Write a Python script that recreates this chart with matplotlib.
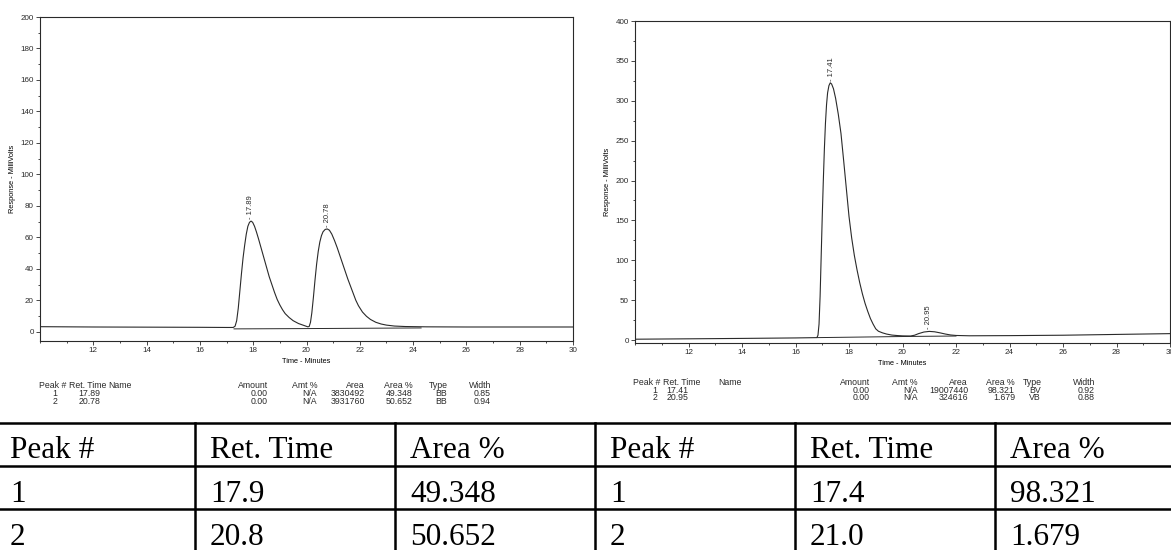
"""
plot.py - two HPLC chromatograms with their printouts and a summary table.
"""

import matplotlib
matplotlib.use("Agg")
import matplotlib.pyplot as plt
import matplotlib.ticker as mticker
from matplotlib.lines import Line2D

# ── Data ─────────────────────────────────────────────────────────────────────
# left run (racemic): time (min) / response (mV)
left_t = [10.0, 12.0, 14.0, 16.0, 17.0, 17.25, 17.32, 17.38, 17.44, 17.5, 17.56,
          17.62, 17.68, 17.74, 17.8, 17.86, 17.92, 17.98, 18.05, 18.12, 18.2,
          18.3, 18.4, 18.5, 18.6, 18.7, 18.8, 18.9, 19.0, 19.1, 19.2, 19.35,
          19.5, 19.7, 19.9, 20.05, 20.1, 20.15, 20.2, 20.26, 20.32, 20.38,
          20.44, 20.5, 20.56, 20.62, 20.7, 20.78, 20.86, 20.95, 21.05, 21.15,
          21.25, 21.35, 21.45, 21.55, 21.65, 21.75, 21.85, 21.95, 22.1, 22.25,
          22.4, 22.6, 22.8, 23.0, 23.3, 23.7, 24.5, 26.0, 28.0, 30.0]
left_mv = [3.2, 3.0, 2.9, 2.8, 2.7, 2.7, 3.5, 7.0, 15.0, 26.0, 37.0,
           47.0, 55.0, 62.0, 67.0, 69.5, 70.3, 69.5, 67.0, 63.5, 59.0,
           53.0, 47.0, 41.0, 35.0, 30.0, 25.0, 20.5, 17.0, 14.0, 11.5, 9.0,
           7.0, 5.2, 4.0, 3.1, 3.3, 6.0, 12.0, 22.0, 33.0, 43.0,
           51.0, 57.0, 61.0, 63.5, 65.0, 65.3, 64.5, 62.0, 58.0, 53.5,
           48.5, 43.5, 38.5, 33.5, 29.0, 24.5, 20.0, 16.5, 12.5, 9.8,
           7.8, 6.0, 4.9, 4.2, 3.6, 3.3, 3.1, 3.0, 3.0, 3.0]
left_base_t = [17.28, 20.08, 24.3]
left_base_mv = [1.8, 2.0, 2.4]
left_peak_t = [17.89, 20.78]
left_peak_mv = [70.3, 65.3]
left_peak_lab = ["17.89", "20.78"]

# right run (enriched)
right_t = [10.0, 12.0, 14.0, 16.0, 16.8, 16.84, 16.88, 16.92, 16.96, 17.0,
           17.04, 17.08, 17.12, 17.16, 17.2, 17.25, 17.3, 17.35, 17.42, 17.5,
           17.6, 17.7, 17.8, 17.9, 18.0, 18.1, 18.2, 18.3, 18.4, 18.5, 18.6,
           18.7, 18.8, 18.9, 19.0, 19.1, 19.25, 19.4, 19.6, 19.8, 20.0, 20.3,
           20.45, 20.6, 20.8, 21.0, 21.2, 21.4, 21.6, 21.8, 22.0, 22.5, 24.0,
           26.0, 28.0, 30.0]
right_mv = [1.0, 1.5, 2.0, 2.6, 3.0, 6.0, 20.0, 55.0, 105.0, 155.0,
            200.0, 240.0, 272.0, 295.0, 310.0, 319.0, 322.5, 321.0, 315.0, 303.0,
            283.0, 259.0, 225.0, 190.0, 155.0, 128.0, 106.0, 88.0, 72.0, 58.0, 46.0,
            36.0, 27.0, 20.0, 14.0, 11.0, 9.0, 7.5, 6.2, 5.6, 5.2, 5.0,
            6.0, 8.0, 10.0, 10.8, 10.3, 9.0, 7.5, 6.3, 5.7, 5.3, 5.5,
            6.0, 7.0, 8.0]
right_base_t = [16.82, 20.3, 22.0]
right_base_mv = [3.0, 4.5, 5.0]
right_peak_t = [17.33, 20.99]
right_peak_mv = [322.5, 10.8]
right_peak_lab = ["17.41", "20.95"]

# instrument printouts
pr_head = ["Peak #", "Ret. Time", "Name", "Amount", "Amt %", "Area", "Area %", "Type", "Width"]
left_rows = [["1", "17.89", "", "0.00", "N/A", "3830492", "49.348", "BB", "0.85"],
             ["2", "20.78", "", "0.00", "N/A", "3931760", "50.652", "BB", "0.94"]]
right_rows = [["1", "17.41", "", "0.00", "N/A", "19007440", "98.321", "BV", "0.92"],
              ["2", "20.95", "", "0.00", "N/A", "324616", "1.679", "VB", "0.88"]]

# summary table
sum_head = ["Peak #", "Ret. Time", "Area %", "Peak #", "Ret. Time", "Area %"]
sum_rows = [["1", "17.9", "49.348", "1", "17.4", "98.321"],
            ["2", "20.8", "50.652", "2", "21.0", "1.679"]]

# ── Layout helpers (pixel -> figure fraction) ────────────────────────────────
W, H = 1171, 550
INK = "#2a2a2a"
SANS = ["Liberation Sans", "DejaVu Sans"]
SERIF = ["Liberation Serif", "DejaVu Serif"]


def fx(px):
    return px / W


def fy(py):
    return 1 - py / H


fig = plt.figure(figsize=(W / 100, H / 100), dpi=100)
fig.patch.set_facecolor("white")


def chrom(box, t, mv, bt, bmv, pk_t, pk_mv, pk_lab, ylim, ymaj, ymin):
    x0, y0, x1, y1 = box
    ax = fig.add_axes([fx(x0), fy(y1), fx(x1 - x0), (y1 - y0) / H])
    ax.plot(t, mv, color=INK, lw=0.8)
    ax.plot(bt, bmv, color=INK, lw=0.7)
    for pt, pm, lab in zip(pk_t, pk_mv, pk_lab):
        ax.annotate(f"- {lab}", xy=(pt, pm), xytext=(0, 1.5), textcoords="offset points",
                    rotation=90, ha="center", va="bottom", fontsize=5.5, family=SANS, color=INK)
    ax.set_xlim(10, 30)
    ax.set_ylim(*ylim)
    ax.set_xticks(range(12, 31, 2))
    ax.xaxis.set_minor_locator(mticker.MultipleLocator(1))
    ax.yaxis.set_major_locator(mticker.MultipleLocator(ymaj))
    ax.yaxis.set_minor_locator(mticker.MultipleLocator(ymin))
    ax.tick_params(which="both", direction="out", colors=INK, labelsize=5.8, width=0.6, pad=1.5)
    ax.tick_params(which="major", length=3)
    ax.tick_params(which="minor", length=1.5)
    for lb in ax.get_xticklabels() + ax.get_yticklabels():
        lb.set_family(SANS)
    for sp in ax.spines.values():
        sp.set_color(INK)
        sp.set_linewidth(0.8)
    ax.set_xlabel("Time - Minutes", fontsize=5.3, family=SANS, labelpad=3)
    ax.set_ylabel("Response - MilliVolts", fontsize=5.3, family=SANS, labelpad=3)
    ax.set_facecolor("white")
    return ax


chrom((40, 17, 573, 341), left_t, left_mv, left_base_t, left_base_mv,
      left_peak_t, left_peak_mv, left_peak_lab, (-5.9, 200), 20, 10)
chrom((635, 21, 1170, 343), right_t, right_mv, right_base_t, right_base_mv,
      right_peak_t, right_peak_mv, right_peak_lab, (-3.75, 400), 50, 25)

# ── Printouts under each chromatogram ───────────────────────────────────────
# (x anchor, alignment) per header column
left_cols = [(66, "right"), (69, "left"), (108, "left"), (268, "right"), (317, "right"),
             (365, "right"), (413, "right"), (448, "right"), (491, "right")]
left_vals = [(57, "right"), (100, "right")]
right_cols = [(660, "right"), (663, "left"), (718, "left"), (870, "right"), (918, "right"),
              (968, "right"), (1015, "right"), (1042, "right"), (1095, "right")]
right_vals = [(657, "right"), (688, "right")]
PR_FS = 6.3


def printout(cols, vals, rows, ys):
    for (x, ha), txt in zip(cols, pr_head):
        fig.text(fx(x), fy(ys[0]), txt, ha=ha, va="center", fontsize=PR_FS, family=SANS, color=INK)
    for r, row in enumerate(rows):
        for c, txt in enumerate(row):
            x, ha = vals[c] if c < len(vals) else cols[c]
            if txt == "":
                continue
            if txt in ("BB", "BV", "VB"):
                x -= 1
            fig.text(fx(x), fy(ys[r + 1]), txt, ha=ha, va="center", fontsize=PR_FS,
                     family=SANS, color=INK)


printout(left_cols, left_vals, left_rows, [385.7, 393.3, 401.0])
printout(right_cols, right_vals, right_rows, [382.7, 390.7, 398.0])

# ── Summary table ───────────────────────────────────────────────────────────
row_lines = [423.3, 466.0, 509.0, 552.0]
col_lines = [195, 395, 595, 795, 995]
for y in row_lines:
    fig.add_artist(Line2D([0, 1], [fy(y), fy(y)], color="black", lw=1.8))
for x in col_lines:
    fig.add_artist(Line2D([fx(x), fx(x)], [fy(row_lines[0]), fy(row_lines[-1])],
                          color="black", lw=1.8))

text_x = [10] + [x + 15 for x in col_lines]
baselines = [458, 502, 545]
for c, txt in enumerate(sum_head):
    fig.text(fx(text_x[c]), fy(baselines[0]), txt, ha="left", va="baseline",
             fontsize=22.5, family=SERIF, color="black")
for r, row in enumerate(sum_rows):
    for c, txt in enumerate(row):
        fig.text(fx(text_x[c]), fy(baselines[r + 1]), txt, ha="left", va="baseline",
                 fontsize=22.5, family=SERIF, color="black")

fig.savefig("out.png", dpi=100)
